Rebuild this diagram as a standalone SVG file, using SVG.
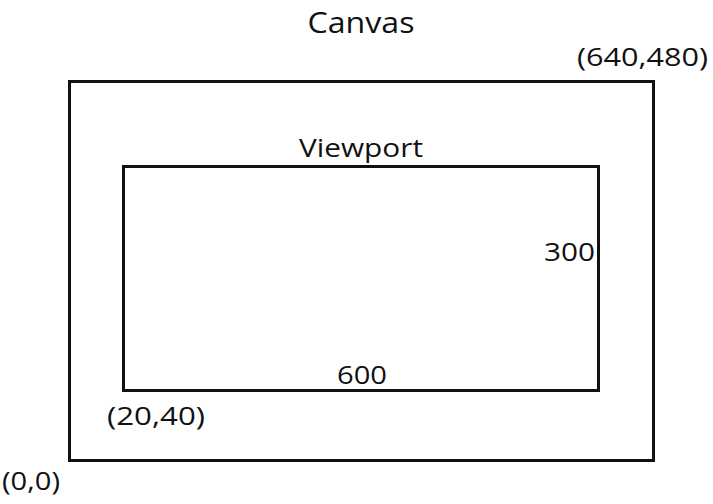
<svg xmlns="http://www.w3.org/2000/svg" width="713" height="504" viewBox="0 0 713 504">
<style>
rect.box{fill:none;stroke:#111;stroke-width:3}
text{font-family:"Open Sans","Noto Sans",sans-serif;fill:#111}
.t{font-size:30px}
.l{font-size:25px}
</style>
<rect width="713" height="504" fill="#fff"/>
<g id="canvas">
<rect class="box" x="69.5" y="81.5" width="584" height="379"/>
<text class="t" x="361" y="33" text-anchor="middle" textLength="107" lengthAdjust="spacingAndGlyphs">Canvas</text>
<text class="l" x="577" y="66" textLength="131" lengthAdjust="spacingAndGlyphs">(640,480)</text>
<text class="l" x="2" y="490" textLength="58" lengthAdjust="spacingAndGlyphs">(0,0)</text>
</g>
<g id="viewport">
<rect class="box" x="123.5" y="166.5" width="475" height="224"/>
<text class="l" x="361" y="157" text-anchor="middle" textLength="124" lengthAdjust="spacingAndGlyphs">Viewport</text>
<text class="l" x="544" y="261" textLength="51" lengthAdjust="spacingAndGlyphs">300</text>
<text class="l" x="362" y="384" text-anchor="middle" textLength="50" lengthAdjust="spacingAndGlyphs">600</text>
<text class="l" x="107" y="425" textLength="98" lengthAdjust="spacingAndGlyphs">(20,40)</text>
</g>
<g id="connectors"/>
</svg>
